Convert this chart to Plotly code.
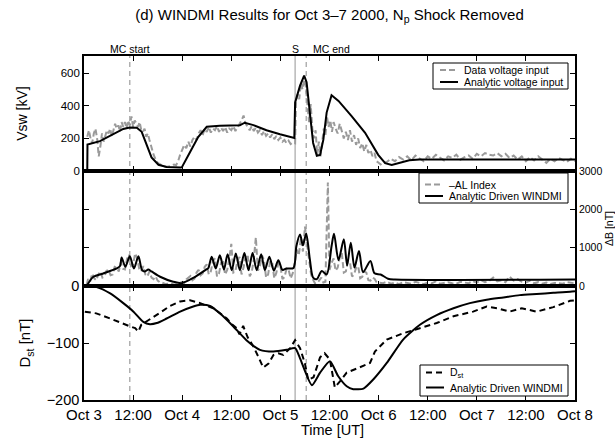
import plotly.graph_objects as go
from plotly.subplots import make_subplots

# ---------------- data (time in hours after 2000-10-03 00:00 UT) ----------------
vdata_t = [0.8, 1.2, 1.6, 2.0, 2.4, 2.8, 3.2, 3.6, 4.0, 4.4, 4.8, 5.2, 5.6, 6.0, 6.4, 6.8, 7.2, 7.6, 8.0,
           8.4, 8.8, 9.2, 9.6, 10.0, 10.4, 10.8, 11.2, 11.6, 12.0, 12.4, 12.8, 13.2, 13.6, 14.0, 14.4,
           14.8, 15.2, 15.6, 16.0,
           16.5, 17, 17.5, 18, 19, 20, 21, 22, 22.5, 23, 23.5,
           24, 24.5, 25, 25.5, 26, 26.5, 27, 27.5, 28, 28.5, 29, 29.5, 30, 30.5, 31, 31.5, 32, 32.5,
           33, 33.5, 34, 34.5, 35, 35.5, 36, 36.5, 37, 37.5, 38, 38.5, 39, 39.5, 40, 40.5, 41, 41.5,
           42, 42.5, 43, 43.5, 44, 44.5, 45, 45.5, 46, 46.5, 47, 47.5, 48, 48.5, 49, 49.5, 50, 50.5, 51,
           51.6, 51.8, 52.2, 52.6, 53.0, 53.4, 53.8, 54.2, 54.6, 55.0, 55.4, 55.8, 56.2, 56.6, 57.0,
           57.4, 57.8, 58.2, 58.6, 59.0, 59.4, 59.8, 60.2, 60.6, 61, 61.5, 62, 62.5, 63, 63.5, 64,
           64.5, 65, 65.5, 66, 66.5, 67, 67.5, 68, 68.5, 69, 69.5, 70, 70.5, 71, 71.5, 72, 72.5, 73,
           74, 75, 76, 77, 78, 79, 80, 81, 82, 83, 84, 85, 86, 87, 88, 89, 90, 91, 92, 93, 94, 95, 96,
           97, 98, 99, 100, 101, 102, 103, 104, 105, 106, 107, 108, 109, 110, 111, 112, 113, 114, 115,
           116, 117, 118, 119, 120]
vdata = [210, 250, 200, 170, 230, 260, 200, 90, 150, 230, 180, 210, 250, 230, 260, 210, 250, 290, 260,
         280, 240, 300, 270, 300, 260, 310, 280, 335, 270, 310, 290, 270, 300, 250, 240, 260, 210, 230,
         190,
         140, 100, 70, 50, 35, 25, 30, 40, 35, 60, 100,
         130, 160, 140, 180, 150, 190, 210, 190, 230, 250, 220, 260, 240, 270, 235, 260, 250, 275,
         240, 265, 245, 270, 235, 260, 250, 275, 245, 265, 285, 310, 340, 290, 270, 250, 275, 245,
         265, 235, 250, 220, 245, 215, 230, 205, 225, 195, 215, 190, 205, 180, 190, 170, 185, 165, 175,
         170, 420, 470, 440, 540, 500, 560, 520, 420, 300, 410, 260, 200, 250, 100,
         180, 90, 200, 260, 220, 330, 270, 310, 240, 300, 260, 230, 290, 250, 200, 240,
         190, 250, 180, 220, 160, 200, 140, 170, 120, 160, 110, 130, 90, 110, 60, 50, 40, 50,
         55, 75, 60, 85, 70, 90, 65, 95, 80, 60, 90, 75, 100, 80, 65, 90, 80, 100, 70, 85, 95, 75, 105,
         90, 110, 100, 95, 110, 90, 105, 80, 95, 70, 90, 60, 85, 65, 90, 70, 50, 75, 60,
         80, 65, 55, 75, 60]

vmodel_t = [0.8, 0.85, 3.9, 7.2, 9.6, 11.2, 12.9, 14.1, 15.3, 16.5, 18.2, 20.2, 23.5, 23.9, 25.9, 27.9,
            30.0, 33.2, 38.1, 39.3, 41.4, 44.6, 47.9, 49.1, 51.4, 51.6, 52.8, 53.8, 54.4, 55.2, 56.0,
            56.9, 57.7, 58.5, 59.3, 60.5, 62.2, 65.4, 68.7, 71.9, 73.6, 75.2, 77.1, 79.5, 82, 120]
vmodel = [0, 162, 183, 225, 258, 267, 265, 240, 167, 83, 38, 25, 21, 22, 115, 208, 271, 277, 281, 296,
          281, 250, 225, 217, 203, 420, 523, 585, 544, 358, 172, 93, 99, 192, 358, 465, 430, 337, 234,
          99, 48, 37, 50, 66, 70, 70]

al_t = [0.65, 1, 1.5, 2, 2.5, 3, 3.5, 4, 4.5, 5, 5.5, 6, 6.5, 7, 7.5, 8, 8.5, 9, 9.5, 10, 10.5, 11,
        11.5, 12, 12.5, 13, 13.5, 14, 14.5, 15, 15.5, 16, 16.5, 17, 17.5, 18, 18.5, 19,
        20, 21, 22, 23,
        24, 24.5, 25, 25.5, 26, 26.5, 27, 27.5, 28, 28.5, 29, 29.5, 30, 30.5, 31, 31.5, 32, 32.5, 33,
        33.5, 34, 34.5, 35, 35.5, 36, 36.5, 37, 37.5, 38, 38.5, 39, 39.5, 40, 40.5, 41, 41.5, 42,
        42.5, 43, 43.5, 44, 44.5, 45, 45.5, 46, 46.5, 47, 47.5, 48, 48.5, 49, 49.5, 50, 50.5, 51,
        51.5, 52, 52.5, 53, 53.5, 54, 54.5, 55, 55.5, 56, 56.5, 57, 57.5, 58, 58.5, 59,
        59.6, 60, 60.5, 61, 61.5, 62, 62.5, 63, 63.5, 64, 64.5, 65, 65.5, 66, 66.5, 67, 67.5, 68,
        68.5, 69, 69.5, 70, 70.5, 71, 71.5, 72, 73,
        74, 75, 76, 77, 78, 79, 80, 81, 82, 83, 84, 85, 86, 87, 88, 89, 90, 91, 92, 93, 94, 95, 96,
        97, 98, 99, 100, 101, 102, 103, 104, 105, 106, 107, 108, 109, 110, 111, 112, 113, 114, 115,
        116, 117, 118, 119, 120]
al = [30, 180, 120, 320, 200, 150, 300, 380, 220, 250, 400, 420, 280, 300, 500, 480, 380, 620, 450, 430,
      700, 820, 520, 560, 850, 720, 450, 380, 520, 300, 250, 380, 220, 180, 250, 140, 100, 90,
      50, 70, 40, 60,
      110, 80, 170, 220, 260, 150, 190, 350, 420, 280, 330, 500, 560, 300, 380, 650, 720, 250, 330,
      600, 620, 300, 420, 700, 1100, 350, 380, 650, 760, 300, 480, 780, 820, 250, 360, 700, 1270,
      400, 520, 800, 680, 220, 300, 650, 620, 200, 340, 600, 520, 180, 230, 450, 430, 200, 330,
      600, 950, 800, 1250, 900, 1550, 1100, 620, 300, 160, 60, 80, 150, 220, 90, 110,
      2700, 420, 600, 720, 400, 480, 750, 860, 350, 380, 650, 620, 250, 300, 480, 520, 200, 240,
      380, 350, 150, 140, 220, 190, 100, 90, 70,
      110, 60, 90, 50, 100, 70, 60, 110, 80, 50, 90, 70, 120, 60, 80, 100, 70, 60, 110, 80, 70, 130,
      90, 160, 100, 130, 220, 120, 150, 100, 250, 140, 180, 110, 90, 140, 70, 100, 60, 90, 50, 80,
      70, 60, 100, 80, 70]

windmi_t = [0.65, 2.3, 4.7, 8.0, 8.8, 9.2, 10.1, 11.2, 12.2, 13.3, 14.2, 14.9, 15.7, 16.5, 18.6, 21.8,
            23.9, 26.7, 30.0, 30.4, 31.2, 32.2, 33.2, 34.2, 35.1, 36.1, 37.1, 38.1, 39.2, 40.2, 41.2,
            42.2, 43.3, 44.2, 45.3, 46.4, 47.5, 48.5, 49.5, 51.2, 51.9, 52.8, 53.5, 54.3, 55.2, 56.0,
            56.9, 58.1, 59.3, 60.5, 61.1, 62.2, 63.5, 64.3, 65.2, 66.1, 67.2, 68.2, 70.0, 71.0, 72.5,
            74.3, 76.0, 120]
windmi = [0, 241, 327, 457, 520, 741, 500, 776, 457, 776, 414, 380, 430, 380, 241, 112, 75, 210, 440,
          470, 760, 457, 800, 431, 830, 414, 845, 414, 862, 414, 860, 414, 828, 414, 760, 400, 672, 420,
          457, 470, 1037, 1345, 1060, 1370, 691, 216, 180, 389, 302, 1037, 1360, 676, 1220, 540, 1130,
          480, 915, 360, 655, 330, 300, 190, 170, 170]

dst_t = [0.2, 3, 6.4, 9, 11.3, 12.5, 13.3, 14, 15.3, 16.9, 19, 21, 23.5, 25.9, 28.4, 31.6, 33, 34.9, 36,
         37.3, 38, 38.9, 40, 41.4, 42.6, 43.8, 45.1, 46.3, 47.5, 48.7, 50.4, 51.6, 52.8, 54.0, 54.8,
         56.1, 57.7, 58.8, 60.1, 61.3, 62.6, 64.2, 66.6, 69.9, 71.1, 74.0, 78.0, 82.1, 86.2, 90.3, 95.1,
         98.4, 101, 104, 107, 110.6, 114.7, 118.8, 120]
dst = [-45, -48, -57, -65, -71, -74, -80, -68, -62, -56, -45, -35, -27, -25, -30, -39, -46, -57, -66,
       -74, -85, -70, -90, -106, -124, -143, -136, -121, -118, -121, -109, -95, -109, -136, -165, -160,
       -125, -118, -129, -178, -167, -152, -145, -135, -115, -94, -83, -74, -65, -53, -45, -36, -39,
       -45, -39, -45, -37, -26, -25]

dstm_t = [0.24, 3.1, 6.4, 9.6, 12.1, 14.5, 16.1, 17.8, 20.2, 23.5, 26.7, 28.4, 30.8, 33.2, 36.5, 39.7,
          43.0, 46.3, 49.5, 51.6, 52.8, 55.7, 57.7, 60.1, 62.1, 64.2, 65.8, 68.3, 70.7, 74.0, 78.0,
          82.1, 86.2, 90.3, 94.3, 98.4, 102.5, 106.5, 110.6, 114.7, 118.8, 120]
dstm = [0, -2, -13, -30, -45, -63, -67, -65, -57, -45, -36, -33, -35, -48, -71, -95, -112, -115, -112,
        -109, -127, -174, -152, -132, -158, -176, -181, -180, -164, -135, -94, -68, -51, -39, -30, -24,
        -20, -16, -14, -12, -10, -9]

event_t = [11.2, 51.6, 54.3]
event_labels = ["MC start", "S", "MC end"]

tick_vals = [0, 12, 24, 36, 48, 60, 72, 84, 96, 108, 120]
tick_text = ["Oct 3", "12:00", "Oct 4", "12:00", "Oct 5", "12:00", "Oct 6", "12:00", "Oct 7", "12:00", "Oct 8"]

# ---------------- figure ----------------
W, H = 615, 438
ML, MR, MT, MB = 84, 40, 56, 38
PW, PH = W - ML - MR, H - MT - MB

GRAY = "#9a9a9a"
FONT = "Liberation Sans, Arial, Helvetica, sans-serif"
DASH_GRAY = dict(color=GRAY, width=2, dash="6px,3px")
SOLID_BLACK = dict(color="black", width=2)
DASH_BLACK = dict(color="black", width=2, dash="6px,4px")


def px_x(p):
    return (p - ML) / PW


def px_y(p):
    return (H - MB - p) / PH


fig = make_subplots(rows=3, cols=1, shared_xaxes=True, vertical_spacing=0,
                    row_heights=[115, 115, 114])

fig.add_trace(go.Scatter(x=vdata_t, y=vdata, mode="lines", name="Data voltage input",
                         line=DASH_GRAY, showlegend=False), row=1, col=1)
fig.add_trace(go.Scatter(x=vmodel_t, y=vmodel, mode="lines", name="Analytic voltage input",
                         line=SOLID_BLACK, showlegend=False), row=1, col=1)

fig.add_trace(go.Scatter(x=al_t, y=al, mode="lines", name="\u2013AL Index",
                         line=DASH_GRAY, showlegend=False), row=2, col=1)
fig.add_trace(go.Scatter(x=windmi_t, y=windmi, mode="lines", name="Analytic Driven WINDMI",
                         line=dict(color="black", width=2, shape="spline", smoothing=0.8),
                         showlegend=False), row=2, col=1)

fig.add_trace(go.Scatter(x=dst_t, y=dst, mode="lines", name="D<sub>st</sub>",
                         line=DASH_BLACK, showlegend=False), row=3, col=1)
fig.add_trace(go.Scatter(x=dstm_t, y=dstm, mode="lines", name="Analytic Driven WINDMI",
                         line=dict(color="black", width=2, shape="spline", smoothing=0.6),
                         showlegend=False), row=3, col=1)

# event lines across all panels
for t, lab in zip(event_t, event_labels):
    solid = (lab == "S")
    fig.add_shape(type="line", xref="x", yref="paper", x0=t, x1=t, y0=0, y1=1, layer="below",
                  line=dict(color="#b8b8b8" if solid else "#8a8a8a", width=1.5 if solid else 1,
                            dash="solid" if solid else "5px,4px"))
    fig.add_annotation(x=t, y=1, xref="x", yref="paper", text=lab, showarrow=False,
                       xanchor="left" if lab == "MC end" else "center", yanchor="bottom",
                       xshift=5 if lab == "MC end" else 0, yshift=-1,
                       font=dict(size=10.5, color="black"))

# compact boxed legends (one per panel), placed in pixel terms
legends = [
    # (box x0, x1, y0, y1, sample x0, x1, text x, [(row y, label, line style)])
    (433, 568, 63, 89, 440, 458, 462,
     [(70, "Data voltage input", DASH_GRAY), (82, "Analytic voltage input", SOLID_BLACK)]),
    (419, 568, 173, 203, 425, 443, 447,
     [(184.5, "\u2013AL Index", DASH_GRAY), (196, "Analytic Driven WINDMI", SOLID_BLACK)]),
    (420, 568, 365, 396, 426, 444, 448,
     [(372.5, "D<sub>st</sub>", DASH_BLACK), (387.5, "Analytic Driven WINDMI", SOLID_BLACK)]),
]
for bx0, bx1, by0, by1, sx0, sx1, tx, rows in legends:
    fig.add_shape(type="rect", xref="paper", yref="paper", x0=px_x(bx0), x1=px_x(bx1),
                  y0=px_y(by1), y1=px_y(by0), line=dict(color="black", width=1),
                  fillcolor="white", layer="above")
    for ry, lab, style in rows:
        fig.add_shape(type="line", xref="paper", yref="paper", x0=px_x(sx0), x1=px_x(sx1),
                      y0=px_y(ry), y1=px_y(ry), line=style, layer="above")
        fig.add_annotation(x=px_x(tx), y=px_y(ry), xref="paper", yref="paper", text=lab,
                           showarrow=False, xanchor="left", yanchor="middle",
                           font=dict(size=10.5, color="black"))

# x-axis title placed just under the tick labels
fig.add_annotation(x=px_x(332), y=px_y(430), xref="paper", yref="paper", text="Time [UT]",
                   showarrow=False, xanchor="center", yanchor="middle",
                   font=dict(size=14.5, color="black"))

axis_common = dict(showline=True, linecolor="black", linewidth=1.6, mirror="ticks", ticks="inside",
                   ticklen=5, tickwidth=1.3, tickcolor="black", showgrid=False, zeroline=False,
                   automargin=False)

for i in (1, 2, 3):
    key = "xaxis" if i == 1 else f"xaxis{i}"
    fig.layout[key].update(range=[0, 120], tickvals=tick_vals, ticktext=tick_text,
                           showticklabels=(i == 3), **axis_common)
fig.layout.xaxis3.update(tickfont=dict(size=15, color="black"))

fig.layout.yaxis.update(range=[0, 705], tickvals=[0, 200, 400, 600], tickfont=dict(size=11.5, color="black"),
                        title=dict(text="Vsw [kV]", font=dict(size=14, color="black"), standoff=30),
                        **axis_common)
fig.layout.yaxis2.update(range=[0, 3000], tickvals=[0, 1000, 2000, 3000], side="right",
                         tickfont=dict(size=10.5, color="black"),
                         title=dict(text="\u0394B [nT]", font=dict(size=10.5, color="black"), standoff=6),
                         **axis_common)
fig.layout.yaxis3.update(range=[-200, 0], tickvals=[-200, -100, 0], tickfont=dict(size=14.5, color="black"),
                         title=dict(text="D<sub>st</sub> [nT]", font=dict(size=15, color="black"), standoff=12),
                         **axis_common)

fig.update_layout(
    width=W, height=H,
    margin=dict(l=ML, r=MR, t=MT, b=MB),
    paper_bgcolor="white", plot_bgcolor="white",
    font=dict(family=FONT, color="black"),
    title=dict(text="(d) WINDMI Results for Oct 3\u20137 2000, N<sub>p</sub> Shock Removed",
               x=0.5, xref="paper", xanchor="center", y=1 - 9 / 438, yref="container", yanchor="top",
               font=dict(size=15, color="black")),
    showlegend=False,
)

fig.write_html("out.html")
